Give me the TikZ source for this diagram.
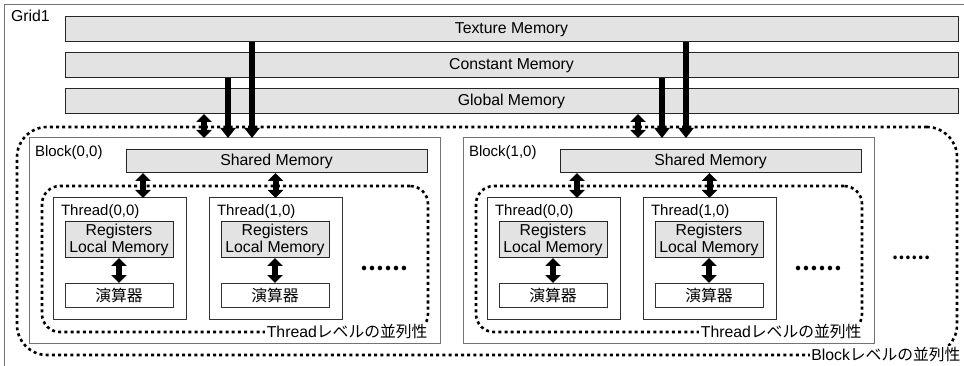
\documentclass[tikz,border=0pt]{standalone}
\usepackage{fontspec}
\setmainfont{Liberation Sans}
\newfontfamily\jp{Noto Sans CJK JP}
\usetikzlibrary{arrows.meta,calc}
\begin{document}
\begin{tikzpicture}[x=1pt,y=-1pt,
  font=\fontsize{15.8}{17.5}\selectfont,
  every node/.append style={inner sep=0pt, outer sep=0pt},
  mem/.style={draw=black!85, fill=black!11, line width=1pt, anchor=north west},
  wbox/.style={draw=black!80, fill=white, line width=1pt, anchor=north west},
  blockbox/.style={draw=black!55, fill=white, line width=1pt, anchor=north west},
  dotbox/.style={draw=black, line width=2.6pt, dash pattern=on 3pt off 3.2pt, anchor=north west},
  lab/.style={fill=white, inner sep=1.5pt},
  small/.style={font=\fontsize{15}{17}\selectfont},
  arr/.style={line width=6pt, -{Triangle[width=15pt,length=10pt]}},
  darr/.style={line width=6pt, {Triangle[width=15pt,length=8pt]}-{Triangle[width=15pt,length=8pt]}},
  dotstxt/.style={font=\jp\bfseries\fontsize{21}{21}\selectfont},
]
\useasboundingbox (0,0) rectangle (964,366);
% grid frame
\draw[draw=black!55, line width=1pt] (4,366) -- (4,5) -- (964,5);
\node[anchor=base west] (grid) at (11,22) {Grid1};
% memories
\node[mem, minimum width=893pt, minimum height=25pt] (tex) at (65,17) {Texture Memory};
\node[mem, minimum width=893pt, minimum height=25pt] (con) at (65,53) {Constant Memory};
\node[mem, minimum width=893pt, minimum height=25pt] (glob) at (65,89) {Global Memory};
% block-level dotted region
\node[dotbox, rounded corners=30pt, minimum width=940pt, minimum height=228pt] (blev) at (17,127) {};
\node[lab, anchor=east] (blevlab) at (962,355) {Block\jp レベルの並列性};
\node[dotstxt, font=\jp\bfseries\fontsize{17}{17}\selectfont] (bdots) at (911,258) {……};
\foreach \o/\k in {0/0,434/1}{
  \node[blockbox, minimum width=411pt, minimum height=205pt] (blk\k) at (29+\o,138) {};
  \node[small, anchor=base west] (blklab\k) at (35+\o,157) {Block(\k,0)};
  \node[mem, minimum width=301pt, minimum height=23pt] (sh\k) at (126+\o,150) {Shared Memory};
  \node[dotbox, rounded corners=18pt, minimum width=386pt, minimum height=146pt] (tl\k) at (42+\o,186) {};
  \node[lab, anchor=east] (tllab\k) at ($(tl\k.south east)+(1,0)$) {Thread\jp レベルの並列性};
  \node[dotstxt] (tdots\k) at (384+\o,268) {……};
  \foreach \t/\tx in {0/0,1/156}{
    \node[wbox, minimum width=133pt, minimum height=121pt] (th\k\t) at (53+\o+\tx,198) {};
    \node[small, anchor=base west] (thlab\k\t) at (61+\o+\tx,216) {Thread(\t,0)};
    \node[mem, minimum width=108pt, minimum height=36pt, align=center] (reg\k\t) at (65+\o+\tx,222) {Registers\\Local Memory};
    \node[wbox, minimum width=108pt, minimum height=24pt] (alu\k\t) at (65+\o+\tx,283) {\jp 演算器};
    \draw[darr] (reg\k\t.south) -- (alu\k\t.north);
  }
  \coordinate (ga\k) at (204+\o,0);
  \coordinate (ca\k) at (228+\o,0);
  \coordinate (ta\k) at (252+\o,0);
  \coordinate (sa\k) at (143+\o,0);
  \draw[darr] (glob.south -| ga\k) -- (blk\k.north -| ga\k);
  \draw[arr] (con.south -| ca\k) -- (blk\k.north -| ca\k);
  \draw[arr] (tex.south -| ta\k) -- (blk\k.north -| ta\k);
  \draw[darr] (sh\k.south -| sa\k) -- (th\k0.north -| sa\k);
  \draw[darr] (sh\k.south -| th\k1.north) -- (th\k1.north);
}
\end{tikzpicture}
\end{document}
